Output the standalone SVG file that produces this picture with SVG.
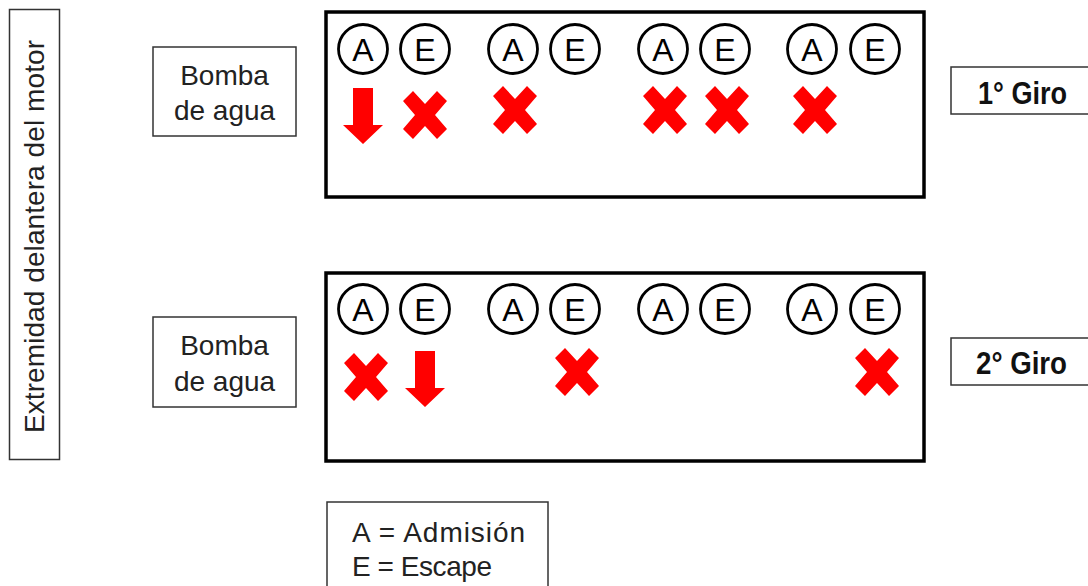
<svg xmlns="http://www.w3.org/2000/svg" xmlns:xlink="http://www.w3.org/1999/xlink" width="1088" height="586" viewBox="0 0 1088 586">
  <style>
    .lbl { fill: none; stroke: #333; stroke-width: 1.5; }
    .main { fill: none; stroke: #000; stroke-width: 3.5; }
    .valve { fill: #fff; stroke: #000; stroke-width: 2.8; }
    .vt { font-family: "Liberation Sans", Arial, sans-serif; font-size: 32px; fill: #000; text-anchor: middle; }
    .t { font-family: "Liberation Sans", Arial, sans-serif; font-size: 28px; fill: #222; }
    .giro { font-family: "Liberation Sans", Arial, sans-serif; font-size: 31px; font-weight: bold; fill: #111; }
    .red { fill: #ff0000; }
  </style>
  <defs>
    <polygon id="cross" class="red" points="-22,-14 -12,-24 0,-11 12,-24 22,-14 10,0 22,14 12,24 0,11 -12,24 -22,14 -10,0"/>
    <path id="arrow" class="red" d="M-10,0 H10 V37 H20 L0,56 L-20,37 H-10 Z"/>
    <g id="valves">
      <circle class="valve" cx="363" cy="0" r="24.5"/><text class="vt" x="363" y="11.5">A</text>
      <circle class="valve" cx="425" cy="0" r="24.5"/><text class="vt" x="425" y="11.5">E</text>
      <circle class="valve" cx="513" cy="0" r="24.5"/><text class="vt" x="513" y="11.5">A</text>
      <circle class="valve" cx="575" cy="0" r="24.5"/><text class="vt" x="575" y="11.5">E</text>
      <circle class="valve" cx="663" cy="0" r="24.5"/><text class="vt" x="663" y="11.5">A</text>
      <circle class="valve" cx="725" cy="0" r="24.5"/><text class="vt" x="725" y="11.5">E</text>
      <circle class="valve" cx="812" cy="0" r="24.5"/><text class="vt" x="812" y="11.5">A</text>
      <circle class="valve" cx="875" cy="0" r="24.5"/><text class="vt" x="875" y="11.5">E</text>
    </g>
  </defs>
  <rect width="1088" height="586" fill="#fff"/>

  <g id="front-label">
    <rect class="lbl" x="9.5" y="9.5" width="50" height="450"/>
    <text class="t" transform="translate(44,236.5) rotate(-90)" text-anchor="middle" textLength="393" lengthAdjust="spacing">Extremidad delantera del motor</text>
  </g>

  <g id="pump-1">
    <rect class="lbl" x="153" y="47" width="143" height="89"/>
    <text class="t" x="224.5" y="85" text-anchor="middle">Bomba</text>
    <text class="t" x="224.5" y="120" text-anchor="middle">de agua</text>
  </g>

  <g id="turn-1">
    <rect class="main" x="326" y="12" width="598" height="185"/>
    <use href="#valves" xlink:href="#valves" y="49"/>
    <use href="#arrow" xlink:href="#arrow" x="363" y="88"/>
    <use href="#cross" xlink:href="#cross" x="425" y="115"/>
    <use href="#cross" xlink:href="#cross" x="515" y="110"/>
    <use href="#cross" xlink:href="#cross" x="665" y="110"/>
    <use href="#cross" xlink:href="#cross" x="727" y="110"/>
    <use href="#cross" xlink:href="#cross" x="815" y="110"/>
  </g>

  <g id="giro-1">
    <rect class="lbl" x="951" y="67" width="150" height="47"/>
    <text class="giro" x="978" y="104" textLength="89" lengthAdjust="spacingAndGlyphs">1° Giro</text>
  </g>

  <g id="pump-2">
    <rect class="lbl" x="153" y="317" width="143" height="90"/>
    <text class="t" x="224.5" y="355" text-anchor="middle">Bomba</text>
    <text class="t" x="224.5" y="391" text-anchor="middle">de agua</text>
  </g>

  <g id="turn-2">
    <rect class="main" x="326" y="273" width="598" height="188"/>
    <use href="#valves" xlink:href="#valves" y="309"/>
    <use href="#cross" xlink:href="#cross" x="366" y="377"/>
    <use href="#arrow" xlink:href="#arrow" x="425" y="351"/>
    <use href="#cross" xlink:href="#cross" x="577" y="372"/>
    <use href="#cross" xlink:href="#cross" x="877" y="372"/>
  </g>

  <g id="giro-2">
    <rect class="lbl" x="951" y="338" width="150" height="47"/>
    <text class="giro" x="976" y="374" textLength="91" lengthAdjust="spacingAndGlyphs">2° Giro</text>
  </g>

  <g id="legend">
    <rect class="lbl" x="327" y="502" width="221" height="100"/>
    <text class="t" x="352" y="542" font-size="26" textLength="173" lengthAdjust="spacing">A = Admisión</text>
    <text class="t" x="352" y="576" font-size="26" textLength="140" lengthAdjust="spacing">E = Escape</text>
  </g>

  <g id="connectors"/>
</svg>
